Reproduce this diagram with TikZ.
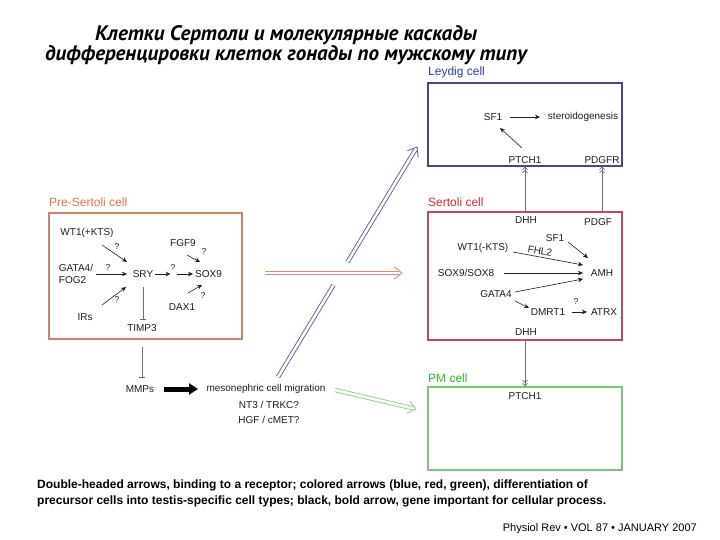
\documentclass[tikz,border=0pt]{standalone}
\usepackage{fontspec}
\setmainfont{Liberation Sans}
\newfontfamily\titlefont{PT Sans}
\usetikzlibrary{arrows.meta,calc}
\definecolor{psLab}{RGB}{235,110,80}
\definecolor{psBox}{RGB}{205,130,110}
\definecolor{lyLab}{RGB}{50,60,170}
\definecolor{lyBox}{RGB}{70,70,140}
\definecolor{seLab}{RGB}{220,40,50}
\definecolor{seBox}{RGB}{195,75,90}
\definecolor{pmLab}{RGB}{40,190,40}
\definecolor{pmBox}{RGB}{120,200,120}
\definecolor{redArr}{RGB}{230,135,120}
\definecolor{blueArr}{RGB}{95,95,170}
\definecolor{greenArr}{RGB}{140,210,140}
\definecolor{grayLn}{RGB}{110,110,110}
\definecolor{txt}{RGB}{30,30,30}
\begin{document}
\begin{tikzpicture}[x=1pt,y=-1pt,
  lbl/.style={font=\fontsize{10}{11.5}\selectfont, text=txt, inner sep=1pt},
  qm/.style={font=\fontsize{8.5}{10}\selectfont, text=txt, inner sep=0pt},
  hdr/.style={font=\fontsize{12}{14}\selectfont, anchor=base west, inner sep=0pt},
  cellbox/.style={draw, line width=1.1pt, inner sep=0pt},
  arr/.style={-{Stealth[length=5pt,width=4.5pt]}, line width=0.6pt, txt},
  recp/.style={-{Straight Barb[length=2.5pt,width=5pt] Straight Barb[length=2.5pt,width=5pt]}, grayLn, line width=0.7pt},
  inhib/.style={-{Bar[width=6pt]}, grayLn, line width=0.8pt},
  dbl/.style={double=white, double distance=2.6pt, line width=0.9pt},
  chev/.style={line width=0.9pt, line join=miter, line cap=round},
  boldarr/.style={-{Triangle[length=9pt,width=11pt]}, line width=5pt, black}
]
\useasboundingbox (0,0) rectangle (720,540);
\fill[white] (0,0) rectangle (720,540);

% title
\node[font=\titlefont\fontsize{21}{18}\selectfont\bfseries\itshape, align=center, inner sep=0pt] (title) at (286,45)
  {Клетки Сертоли и молекулярные каскады\\дифференцировки клеток гонады по мужскому типу};

% ---------------- Pre-Sertoli cell
\node[cellbox, draw=psBox, minimum width=193pt, minimum height=126pt] (pres) at (145.5,276) {};
\node[hdr, text=psLab] (presl) at (49,207) {Pre-Sertoli cell};
\node[lbl] (wt1p) at (87,233) {WT1(+KTS)};
\node[lbl, align=left] (gata) at (76,274) {GATA4/\\FOG2};
\node[lbl] (sry) at (143,274) {SRY};
\node[lbl] (sox9) at (208.5,274) {SOX9};
\node[lbl] (fgf9) at (183,243) {FGF9};
\node[lbl] (dax1) at (182,307) {DAX1};
\node[lbl] (irs) at (85,317) {IRs};
\node[lbl] (timp3) at (142,328) {TIMP3};
\coordinate (mid) at (173.5,274);
\node[qm] (q1) at (117,247) {?};
\node[qm] (q2) at (108,268) {?};
\node[qm] (q3) at (117,300) {?};
\node[qm] (q4) at (173,268) {?};
\node[qm] (q5) at (204,252) {?};
\node[qm] (q6) at (203,296) {?};

\draw[arr] ([shift={(15,12)}]wt1p.center) -- ([shift={(-16,-12)}]sry.center);
\draw[arr] ([shift={(20,0)}]gata.center) -- ([shift={(-16,0)}]sry.center);
\draw[arr] ([shift={(17,-12)}]irs.center) -- ([shift={(-17,13)}]sry.center);
\draw[arr] ([shift={(12,0)}]sry.center) -- ([shift={(-3,0)}]mid);
\draw[arr] ([shift={(3,0)}]mid) -- ([shift={(-15.5,0)}]sox9.center);
\draw[arr] ([shift={(4,12)}]fgf9.center) -- ([shift={(-8.5,-12)}]sox9.center);
\draw[arr] ([shift={(6,-14)}]dax1.center) -- ([shift={(-6.5,11)}]sox9.center);
\draw[inhib] ([shift={(0,13)}]sry.center) -- ([shift={(0,-8)}]sry.center |- timp3.center);

% below pre-Sertoli
\node[lbl] (mmps) at (140,389) {MMPs};
\node[lbl] (meso) at (266,389) {mesonephric cell migration};
\node[lbl] (nt3) at (269,405) {NT3 / TRKC?};
\node[lbl] (hgf) at (269,420) {HGF / cMET?};
\draw[inhib] ([shift={(0,19)}]timp3.center) -- ([shift={(2,-11)}]mmps.center);
\draw[boldarr] ([shift={(24,0)}]mmps.center) -- ([shift={(-68,0)}]meso.center);

% ---------------- Leydig cell
\node[cellbox, draw=lyBox, minimum width=194pt, minimum height=83pt] (leydig) at (525,124.5) {};
\node[hdr, text=lyLab] (leydigl) at (428,76) {Leydig cell};
\node[lbl] (sf1l) at (493,117) {SF1};
\node[lbl] (ster) at (583,117) {steroidogenesis};
\node[lbl] (ptchl) at (525,160) {PTCH1};
\node[lbl] (pdgfr) at (602,160) {PDGFR};
\draw[arr] ([shift={(17,0)}]sf1l.center) -- ([shift={(-43,0)}]ster.center);
\draw[arr] ([shift={(-3,-12)}]ptchl.center) -- ([shift={(7,11)}]sf1l.center);

% ---------------- Sertoli cell
\node[cellbox, draw=seBox, line width=1.3pt, minimum width=194pt, minimum height=128pt] (sert) at (525,276) {};
\node[hdr, text=seLab] (sertl) at (428,207) {Sertoli cell};
\node[lbl] (dhht) at (526,220) {DHH};
\node[lbl] (pdgf) at (598,222) {PDGF};
\node[lbl] (sf1s) at (555,238) {SF1};
\node[lbl] (wt1s) at (483,248) {WT1(-KTS)};
\node[lbl, rotate=-10] (fhl) at (540,251) {FHL2};
\node[lbl] (sox98) at (466,273) {SOX9/SOX8};
\node[lbl] (amh) at (602,273) {AMH};
\node[lbl] (gata4) at (496,294) {GATA4};
\node[lbl] (dmrt) at (548,312) {DMRT1};
\node[lbl] (atrx) at (604,312) {ATRX};
\node[qm] (q7) at (576,302) {?};
\node[lbl] (dhhb) at (526,332) {DHH};
\draw[arr] ([shift={(13,4)}]sf1s.center) -- ([shift={(-14,-15)}]amh.center);
\draw[arr] ([shift={(30,4)}]wt1s.center) -- ([shift={(-19,-8)}]amh.center);
\draw[arr] ([shift={(38,0)}]sox98.center) -- ([shift={(-19,0)}]amh.center);
\draw[arr] ([shift={(19,-2)}]gata4.center) -- ([shift={(-19,6)}]amh.center);
\draw[arr] ([shift={(19,7)}]gata4.center) -- ([shift={(-19,-4)}]dmrt.center);
\draw[arr] ([shift={(24,0)}]dmrt.center) -- ([shift={(-17,0)}]atrx.center);

% receptor arrows
\draw[recp] (sert.north -| ptchl.center) -- (leydig.south -| ptchl.center);
\draw[recp] (sert.north -| pdgfr.center) -- (leydig.south -| pdgfr.center);

% ---------------- PM cell
\node[cellbox, draw=pmBox, minimum width=194pt, minimum height=83pt] (pm) at (525,428.5) {};
\node[hdr, text=pmLab] (pml) at (428,382) {PM cell};
\node[lbl] (ptchp) at (525,396) {PTCH1};
\draw[recp] (sert.south -| ptchp.center) -- (pm.north -| ptchp.center);

% ---------------- differentiation arrows (double lines with open heads)
\coordinate (r1) at (265,273);
\coordinate (r2) at (402,273);
\draw[dbl, draw=redArr, shorten >=3.5pt] (r1) -- (r2);
\draw[chev, draw=redArr] ($(r2)!10pt!-38:(r1)$) -- (r2) -- ($(r2)!10pt!38:(r1)$);
\coordinate (b1) at (278,377);
\coordinate (b2) at (333.6,285);
\coordinate (b3) at (347.5,262);
\coordinate (b4) at (417,147);
\draw[dbl, draw=blueArr] (b1) -- (b2);
\draw[dbl, draw=blueArr, shorten >=3.5pt] (b3) -- (b4);
\draw[chev, draw=blueArr] ($(b4)!10pt!-38:(b3)$) -- (b4) -- ($(b4)!10pt!38:(b3)$);
\coordinate (g1) at (335,390);
\coordinate (g2) at (416,409);
\draw[dbl, draw=greenArr, shorten >=3.5pt] (g1) -- (g2);
\draw[chev, draw=greenArr] ($(g2)!10pt!-38:(g1)$) -- (g2) -- ($(g2)!10pt!38:(g1)$);

% caption
\node[font=\fontsize{12}{15.5}\selectfont\bfseries, anchor=north west, align=left, inner sep=0pt] (cap) at (37,480)
  {Double-headed arrows, binding to a receptor; colored arrows (blue, red, green), differentiation of\\
   precursor cells into testis-specific cell types; black, bold arrow, gene important for cellular process.};
\node[font=\fontsize{11}{12}\selectfont, anchor=base east, inner sep=0pt] (src) at (697,531)
  {Physiol Rev • VOL 87 • JANUARY 2007};
\end{tikzpicture}
\end{document}
